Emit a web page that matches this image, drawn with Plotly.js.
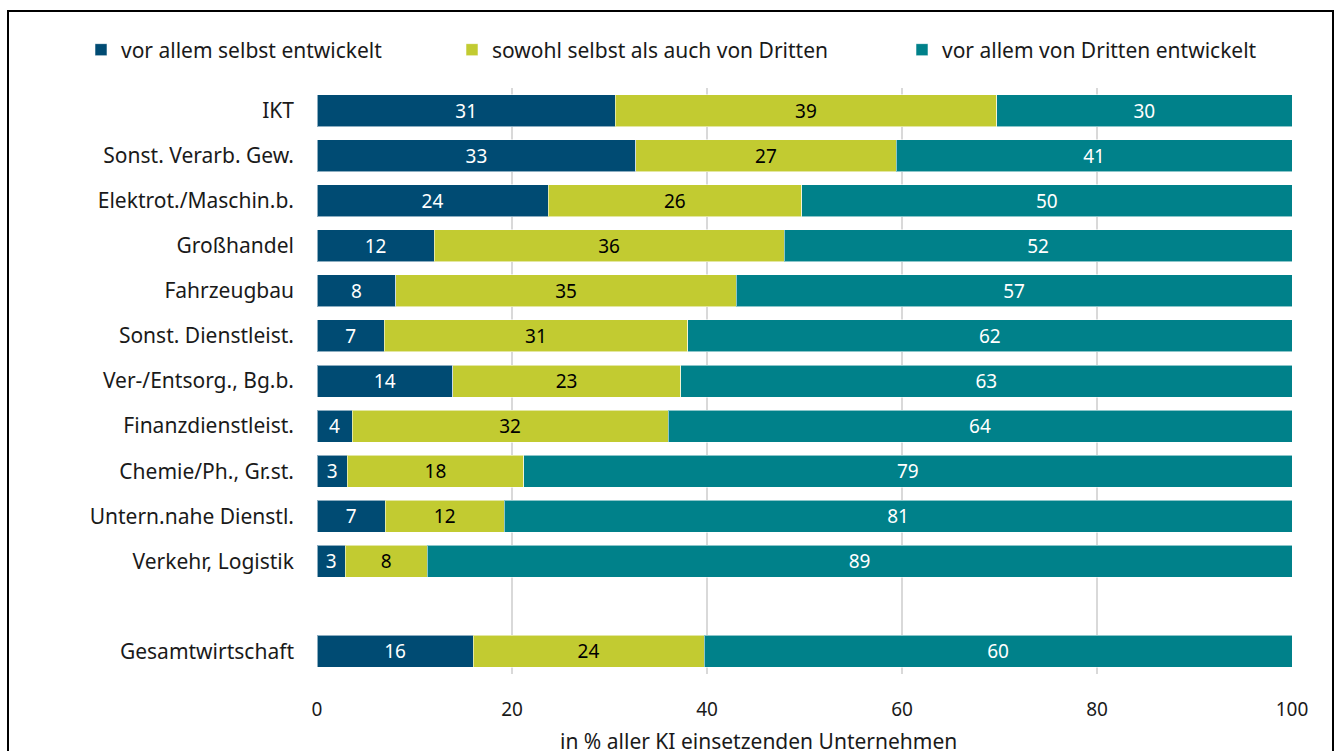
<!DOCTYPE html>
<html>
<head>
<meta charset="utf-8">
<script src="https://cdn.plot.ly/plotly-3.0.1.min.js"></script>
<style>
html,body{margin:0;padding:0;background:#fff;}
#chart{width:1340px;height:751px;}
</style>
</head>
<body>
<div id="chart"></div>
<script>
// Categories (top to bottom); " " is the empty spacer row
const categories = ["IKT","Sonst. Verarb. Gew.","Elektrot./Maschin.b.","Großhandel","Fahrzeugbau","Sonst. Dienstleist.","Ver-/Entsorg., Bg.b.","Finanzdienstleist.","Chemie/Ph., Gr.st.","Untern.nahe Dienstl.","Verkehr, Logistik"," ","Gesamtwirtschaft"];

const seriesNames = ["vor allem selbst entwickelt","sowohl selbst als auch von Dritten","vor allem von Dritten entwickelt"];

const selbst  = [30.6, 32.7, 23.7, 12.0,  8.1,  6.9, 13.9,  3.6,  3.1,  7.0,  2.9, null, 16.0];
const sowohl  = [39.1, 26.7, 26.0, 35.9, 34.9, 31.1, 23.4, 32.4, 18.1, 12.2,  8.4, null, 23.7];
const dritten = [30.3, 40.6, 50.3, 52.1, 57.0, 62.0, 62.7, 64.0, 78.8, 80.8, 88.7, null, 60.3];

const xTickVals = [0, 20, 40, 60, 80, 100];
const xAxisTitle = "in % aller KI einsetzenden Unternehmen";

const colors = ["#004b73", "#c2cb31", "#00818a"];
const textColors = ["#ffffff", "#000000", "#ffffff"];
const FONT = "Noto Sans, Open Sans, sans-serif";
const TXT = 21;   // text labels
const NUM = 19;   // numbers

const seriesValues = [selbst, sowohl, dritten];
const legendIds = ["legend", "legend2", "legend3"];

const traces = seriesValues.map((vals, i) => ({
  type: "bar",
  orientation: "h",
  name: seriesNames[i],
  y: categories,
  x: vals,
  legend: legendIds[i],
  marker: {color: colors[i], line: {color: "rgba(255,255,255,0.55)", width: 1}},
  texttemplate: "%{x:.0f}",
  textposition: "inside",
  insidetextanchor: "middle",
  constraintext: "none",
  textfont: {family: FONT, size: NUM, color: textColors[i]},
  hoverinfo: "skip",
  cliponaxis: false
}));

const plotLeft = 317, plotRight = 1292, plotTop = 88, plotBottom = 674;
const pw = plotRight - plotLeft, ph = plotBottom - plotTop;
const px = v => (v - plotLeft) / pw;
const py = v => (plotBottom - v) / ph;

const legendBase = {
  orientation: "h",
  yanchor: "middle",
  xanchor: "left",
  y: py(50),
  bgcolor: "rgba(0,0,0,0)",
  font: {family: FONT, size: TXT, color: "#1a1a1a"},
  itemwidth: 30,
  itemclick: false,
  itemdoubleclick: false
};

const layout = {
  width: 1340,
  height: 751,
  margin: {l: plotLeft, r: 1340 - plotRight, t: plotTop, b: 751 - plotBottom, pad: 0},
  paper_bgcolor: "#ffffff",
  plot_bgcolor: "#ffffff",
  barmode: "stack",
  bargap: 0.29,
  font: {family: FONT, size: TXT, color: "#1a1a1a"},
  showlegend: true,
  legend:  Object.assign({}, legendBase, {x: px(81)}),
  legend2: Object.assign({}, legendBase, {x: px(452)}),
  legend3: Object.assign({}, legendBase, {x: px(902)}),
  xaxis: {
    range: [0, 100],
    tickvals: xTickVals,
    ticktext: xTickVals.map(String),
    showgrid: true,
    gridcolor: "#d9d9d9",
    gridwidth: 1.5,
    zeroline: false,
    showline: false,
    ticks: "outside",
    ticklen: 18,
    tickcolor: "rgba(0,0,0,0)",
    tickfont: {family: FONT, size: NUM, color: "#1a1a1a"},
    fixedrange: true
  },
  yaxis: {
    type: "category",
    categoryorder: "array",
    categoryarray: categories,
    range: [categories.length - 0.5, -0.5],
    showgrid: false,
    zeroline: false,
    showline: false,
    ticks: "",
    ticklabelstandoff: 22,
    tickfont: {family: FONT, size: TXT, color: "#1a1a1a"},
    fixedrange: true
  },
  annotations: [{
    xref: "paper", yref: "paper",
    x: px(758), y: py(741),
    xanchor: "center", yanchor: "middle",
    text: xAxisTitle,
    showarrow: false,
    font: {family: FONT, size: TXT, color: "#1a1a1a"}
  }],
  shapes: [{
    type: "rect",
    xref: "paper", yref: "paper",
    x0: px(8), x1: px(1333),
    y0: py(770), y1: py(11),
    line: {color: "#000000", width: 2},
    fillcolor: "rgba(0,0,0,0)",
    layer: "below"
  }]
};

Plotly.newPlot("chart", traces, layout, {displayModeBar: false, staticPlot: true});
</script>
</body>
</html>
